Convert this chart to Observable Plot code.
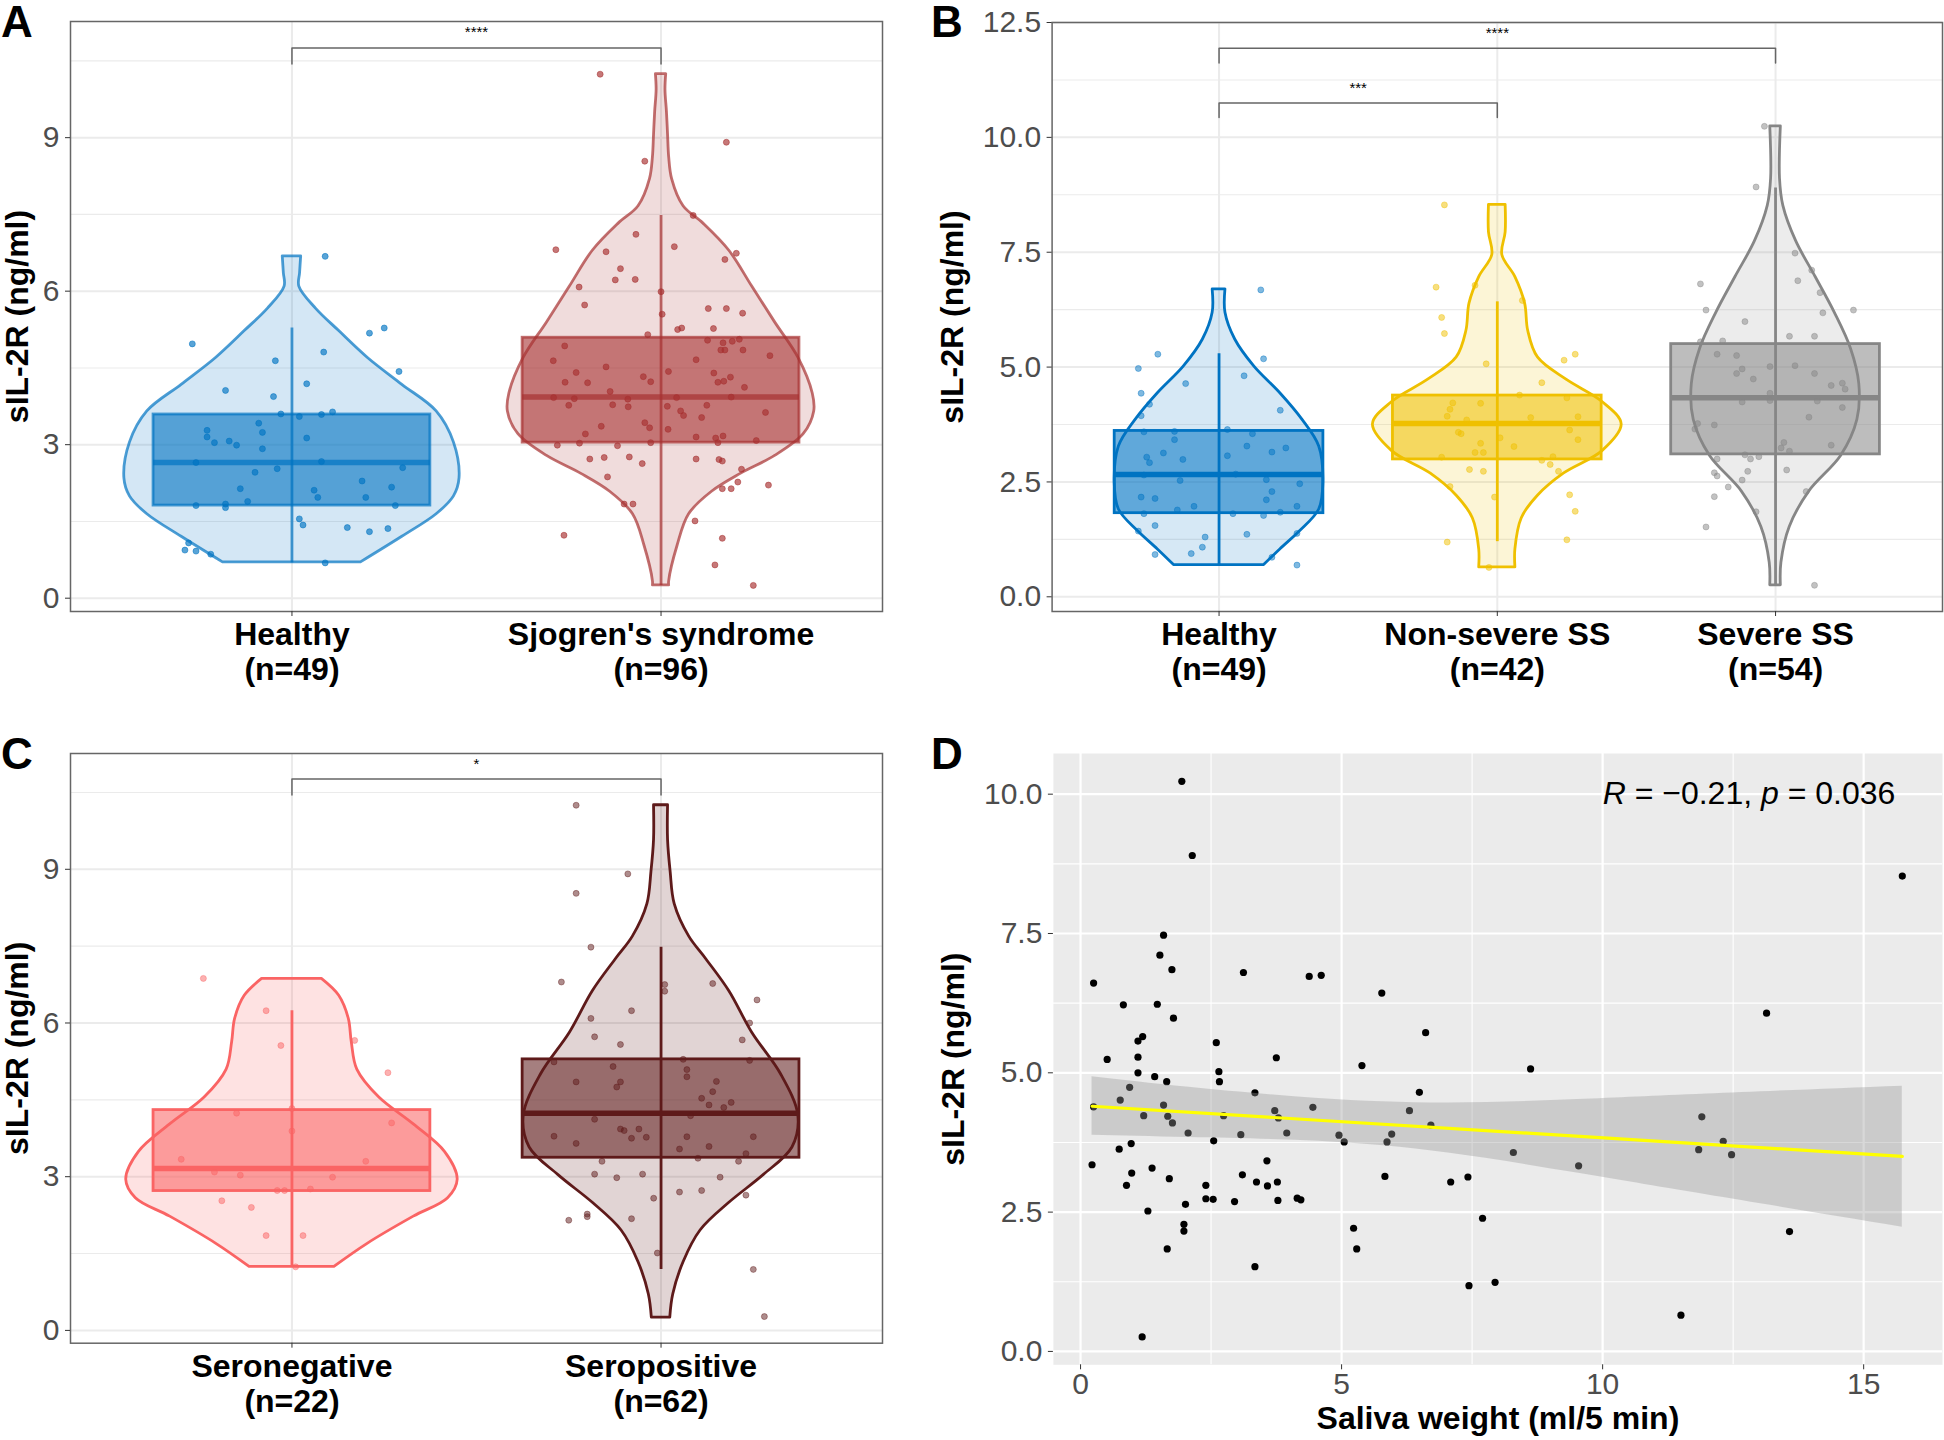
<!DOCTYPE html>
<html><head><meta charset="utf-8">
<script src="https://cdn.jsdelivr.net/npm/d3@7"></script>
<script src="https://cdn.jsdelivr.net/npm/@observablehq/plot@0.6"></script>
<style>
body{margin:0;background:#fff;width:1944px;height:1440px;position:relative;overflow:hidden;font-family:"Liberation Sans",Arial,sans-serif}
.panel{position:absolute}
.letter{position:absolute;font-weight:bold;font-size:44px;line-height:44px;color:#000;font-family:"Liberation Sans",Arial,sans-serif}
</style></head><body>
<div class="letter" style="left:1px;top:0px">A</div>
<div class="letter" style="left:931px;top:0px">B</div>
<div class="letter" style="left:1px;top:732px">C</div>
<div class="letter" style="left:931px;top:732px">D</div>
<div id="pA" class="panel" style="left:0;top:0"></div>
<div id="pB" class="panel" style="left:930px;top:0"></div>
<div id="pC" class="panel" style="left:0;top:720px"></div>
<div id="pD" class="panel" style="left:930px;top:720px"></div>
<script>
// ---------------- DATA ----------------
const yTitle = "sIL-2R (ng/ml)";

// Panel A
const groupsA = ["Healthy\n(n=49)", "Sjogren's syndrome\n(n=96)"];
const colorsA = ["#0073C2", "#A73030"];
const q1A = [1.81, 3.04], medA = [2.65, 3.93], q3A = [3.59, 5.09];
const whiskLoA = [0.69, 0.25], whiskHiA = [5.28, 7.48];
const violinHealthyY = [0.70, 1.20, 1.64, 1.99, 2.34, 3.04, 3.65, 4.17, 4.70, 5.22, 5.66, 6.09, 6.35, 6.68];
const violinHealthyW = [0.187, 0.299, 0.392, 0.439, 0.454, 0.439, 0.392, 0.299, 0.205, 0.128, 0.065, 0.020, 0.022, 0.025];
const violinSSY = [0.25, 0.33, 1.03, 1.64, 2.08, 2.43, 2.78, 3.21, 3.65, 4.00, 4.70, 5.39, 6.09, 6.79, 7.32, 7.66, 8.19, 8.62, 9.06, 9.50, 9.93, 10.24];
const violinSSW = [0.022, 0.022, 0.045, 0.076, 0.138, 0.216, 0.309, 0.387, 0.415, 0.411, 0.372, 0.309, 0.247, 0.185, 0.115, 0.061, 0.030, 0.022, 0.019, 0.016, 0.012, 0.014];
const healthyVals = [4.97,4.06,4.64,6.68,4.81,5.18,5.28,4.43,4.19,3.94,3.60,3.64,3.59,3.55,3.42,3.24,3.28,3.15,3.04,3.07,2.99,2.92,3.13,2.65,2.67,2.55,2.46,2.53,2.14,1.89,2.11,1.97,2.29,1.97,2.17,1.81,1.84,1.77,1.81,1.55,1.43,1.38,1.30,1.36,1.08,0.94,0.92,0.86,0.69];
const healthyJitterA = [-0.27,-0.18,-0.045,0.09,0.086,0.21,0.25,0.29,0.04,-0.05,-0.03,0.11,0.08,0.02,-0.09,-0.08,-0.23,-0.23,-0.21,-0.17,-0.15,-0.08,0.04,-0.26,0.08,0.30,-0.10,-0.04,-0.14,-0.12,0.06,0.07,0.19,0.20,0.27,-0.26,-0.18,-0.18,0.28,0.02,0.03,0.15,0.21,0.26,-0.28,-0.29,-0.26,-0.22,0.09];
const ssVals = [10.24,8.91,8.54,7.48,7.11,6.81,6.87,6.77,6.74,6.62,6.44,6.23,6.22,6.08,5.99,5.73,5.66,5.66,5.57,5.55,5.28,5.25,5.27,5.15,4.93,5.04,5.02,5.06,4.99,4.64,4.66,4.74,4.52,4.85,4.85,4.85,4.41,4.33,4.23,4.43,4.40,4.32,4.22,4.24,4.22,4.21,4.12,4.04,3.92,3.90,3.89,3.92,3.93,3.77,3.78,3.74,3.75,3.77,3.66,3.57,3.53,3.63,3.43,3.33,3.36,3.30,3.21,3.15,3.03,3.13,3.17,3.04,2.99,2.98,3.04,3.08,2.72,2.75,2.76,2.72,2.71,2.68,2.63,2.52,2.37,2.27,2.14,2.14,2.21,1.84,1.84,1.51,1.23,1.17,0.65,0.25];
const ssJitter = [-0.165,0.177,-0.044,0.087,-0.068,-0.285,0.036,-0.149,0.204,0.173,-0.110,-0.070,-0.124,-0.222,0.000,-0.207,0.128,0.177,0.221,0.003,0.056,0.045,0.142,-0.036,-0.261,0.126,0.193,0.212,0.168,-0.292,0.095,0.295,-0.149,0.162,0.173,0.222,-0.230,-0.048,-0.028,0.020,0.143,0.188,0.154,0.170,-0.260,-0.199,0.226,-0.138,-0.291,-0.235,-0.090,0.042,0.190,-0.250,-0.131,-0.089,0.017,0.124,0.053,0.061,0.110,0.283,-0.044,-0.031,-0.162,0.019,-0.205,0.095,-0.221,0.148,0.168,0.154,-0.281,-0.118,-0.028,0.258,-0.193,-0.154,-0.086,0.095,0.157,0.166,-0.051,0.218,-0.145,0.208,0.166,0.190,0.291,-0.100,-0.076,0.092,-0.263,0.166,0.146,0.250];
const bracketFromA = [1], bracketToA = [2], bracketLevelA = [10.75], bracketLabelA = ["****"];

// Panel B
const groupsB = ["Healthy\n(n=49)", "Non-severe SS\n(n=42)", "Severe SS\n(n=54)"];
const colorsB = ["#0073C2", "#EFC000", "#868686"];
const q1B = [1.82, 2.99, 3.10], medB = [2.66, 3.77, 4.33], q3B = [3.61, 4.38, 5.50];
const whiskLoB = [0.69, 1.20, 0.25], whiskHiB = [5.29, 6.42, 8.90];
const violinHealthyBY = [0.69, 1.03, 1.42, 1.90, 2.49, 3.27, 3.85, 4.43, 5.01, 5.60, 6.18, 6.69];
const violinHealthyBW = [0.162, 0.22, 0.29, 0.36, 0.375, 0.36, 0.30, 0.22, 0.127, 0.058, 0.023, 0.023];
const violinNonSevY = [0.64, 1.03, 1.71, 2.20, 2.68, 3.17, 3.75, 4.24, 4.72, 5.21, 5.79, 6.38, 6.96, 7.44, 7.93, 8.53];
const violinNonSevW = [0.065, 0.065, 0.088, 0.146, 0.239, 0.378, 0.447, 0.378, 0.250, 0.146, 0.111, 0.100, 0.065, 0.018, 0.030, 0.030];
const violinSevY = [0.25, 0.74, 1.52, 2.29, 3.07, 3.85, 4.63, 5.40, 6.18, 6.96, 7.74, 8.51, 9.10, 10.24];
const violinSevW = [0.019, 0.021, 0.051, 0.121, 0.236, 0.294, 0.301, 0.271, 0.213, 0.144, 0.074, 0.028, 0.016, 0.019];
const healthyJitterB = [-0.29,0.22,-0.12,0.15,0.09,0.16,-0.22,-0.28,-0.25,-0.28,-0.16,0.03,-0.27,0.12,-0.16,0.24,0.10,0.19,-0.26,0.03,-0.13,-0.25,-0.20,-0.27,0.06,0.17,0.29,-0.14,-0.23,-0.15,0.17,-0.09,0.19,0.28,-0.28,0.05,0.22,0.16,-0.27,-0.23,-0.29,0.28,-0.05,0.10,-0.06,-0.10,-0.23,0.19,0.28];
const nonSevVals = [8.53,6.74,6.78,6.45,6.08,5.73,5.15,5.28,5.07,4.66,4.39,4.33,4.21,4.22,4.08,3.93,3.90,3.92,3.58,3.55,3.63,3.42,3.34,3.14,3.14,3.04,3.05,2.97,2.77,2.73,2.73,2.40,2.22,2.17,1.86,1.19,1.24,0.64,3.27,3.46,2.88,3.85];
const nonSevJitter = [-0.19,-0.22,-0.08,0.09,-0.20,-0.19,0.24,0.28,-0.04,0.16,0.08,0.25,-0.06,-0.16,-0.17,-0.18,0.12,0.29,-0.14,-0.13,0.26,0.29,-0.06,-0.08,-0.05,-0.20,0.20,0.16,-0.10,-0.05,0.22,-0.17,0.26,-0.01,0.28,-0.18,0.25,-0.03,0.06,0.01,0.19,-0.11];
const sevVals = [10.24,8.92,7.48,7.11,6.88,6.81,6.62,6.24,6.24,5.99,5.67,5.67,5.55,5.57,5.28,5.25,5.01,5.03,4.96,4.86,4.86,4.74,4.65,4.52,4.43,4.27,4.24,4.26,4.12,3.91,3.77,3.74,3.65,3.30,3.36,3.24,3.17,3.00,3.09,3.00,3.05,2.76,2.73,2.70,2.63,2.54,2.29,2.18,1.85,1.52,0.25,2.39,6.18,4.60];
const sevJitter = [-0.04,-0.07,0.07,0.13,0.08,-0.27,0.16,-0.25,0.28,-0.11,0.05,0.14,-0.27,-0.19,-0.21,-0.14,-0.02,0.07,-0.12,-0.14,0.14,-0.08,0.24,0.25,-0.02,-0.02,-0.12,0.15,0.24,0.12,-0.28,-0.22,-0.29,0.20,0.03,0.02,0.05,-0.21,-0.11,-0.09,-0.06,0.04,-0.10,-0.22,-0.21,-0.12,0.11,-0.22,-0.07,-0.25,0.14,-0.17,0.17,0.20];
const bracketFromB = [1, 1], bracketToB = [3, 2], bracketLevelB = [11.94, 10.75], bracketLabelB = ["****", "***"];

// Panel C
const groupsC = ["Seronegative\n(n=22)", "Seropositive\n(n=62)"];
const colorsC = ["#FA6464", "#5E1A1A"];
const q1C = [2.72, 3.37], medC = [3.16, 4.24], q3C = [4.30, 5.29];
const whiskLoC = [1.24, 1.19], whiskHiC = [6.24, 7.48];
const violinSeroNegY = [1.24, 1.69, 2.22, 2.58, 2.94, 3.48, 4.02, 4.55, 5.09, 5.63, 6.08, 6.53, 6.86];
const violinSeroNegW = [0.115, 0.205, 0.330, 0.423, 0.449, 0.415, 0.330, 0.236, 0.177, 0.162, 0.154, 0.128, 0.081];
const violinSeroPosY = [0.25, 0.70, 1.33, 1.95, 2.49, 3.03, 3.57, 4.19, 5.00, 5.81, 6.62, 7.24, 7.69, 8.32, 8.95, 9.57, 10.25];
const violinSeroPosW = [0.025, 0.033, 0.061, 0.107, 0.185, 0.278, 0.356, 0.372, 0.325, 0.247, 0.185, 0.123, 0.076, 0.037, 0.026, 0.019, 0.019];
const seroNegVals = [6.87,6.24,5.56,5.66,5.03,4.24,4.33,4.05,3.89,3.34,3.09,2.99,2.73,2.73,2.76,2.53,2.40,1.85,1.85,1.24,3.30,3.03];
const seroNegJitter = [-0.24,-0.07,-0.03,0.17,0.26,-0.15,0.00,0.27,0.00,-0.30,-0.21,0.11,-0.04,-0.02,0.05,-0.19,-0.11,-0.07,0.03,0.01,0.20,-0.14];
const seroPosVals = [10.25,8.91,8.53,7.48,6.80,6.75,6.62,6.77,6.45,6.24,6.09,6.00,5.73,5.67,5.58,5.27,5.24,5.29,5.15,5.09,4.95,4.85,4.85,4.75,4.86,4.66,4.53,4.40,4.45,4.35,4.12,3.93,3.90,3.93,3.75,3.77,3.79,3.78,3.78,3.65,3.59,3.54,3.45,3.36,3.30,3.05,2.98,3.05,2.99,2.70,2.73,2.64,2.15,2.27,2.22,2.18,1.51,1.19,0.27,4.19,3.30,2.58];
const seroPosJitter = [-0.23,-0.09,-0.23,-0.19,-0.27,0.01,0.01,0.14,0.26,-0.08,-0.19,0.24,-0.18,0.22,-0.11,0.24,-0.29,0.06,-0.13,0.07,0.07,-0.23,-0.11,-0.12,0.15,0.14,0.11,0.13,0.19,0.17,-0.18,-0.11,-0.10,-0.06,-0.08,-0.04,-0.29,0.07,0.25,-0.23,0.13,0.05,0.23,0.10,0.21,-0.18,-0.12,-0.05,0.16,0.05,0.11,0.23,-0.25,-0.20,-0.20,-0.08,-0.01,0.25,0.28,0.08,-0.16,-0.02];
const bracketFromC = [1], bracketToC = [2], bracketLevelC = [10.76], bracketLabelC = ["*"];

// Panel D
const salivaWeight = [1.94,2.14,15.74,1.59,1.52,1.75,3.12,4.38,4.61,0.25,0.82,1.47,5.77,1.78,13.14,1.19,1.10,2.60,6.61,0.51,3.75,1.10,1.10,2.65,1.42,5.39,8.62,0.94,1.65,2.66,3.34,0.76,1.59,6.49,0.25,4.45,3.72,6.30,1.21,1.67,2.74,3.79,11.90,1.76,6.71,2.06,3.95,3.07,4.95,5.96,2.55,5.05,5.87,12.31,0.97,0.74,11.84,12.47,8.29,3.57,0.22,9.54,1.37,3.10,0.98,1.70,5.83,7.42,3.37,7.09,3.77,0.88,2.40,3.58,4.15,4.22,2.54,2.40,2.95,3.78,2.01,1.29,7.70,1.98,1.98,5.23,13.58,1.66,5.29,3.34,7.44,7.94,11.50,1.18];
const sil2r = [10.23,8.90,8.53,7.47,7.11,6.85,6.80,6.73,6.75,6.61,6.22,6.23,6.43,5.98,6.07,5.65,5.57,5.54,5.72,5.24,5.27,5.28,5.00,5.02,4.93,5.13,5.07,4.74,4.84,4.84,4.64,4.51,4.42,4.65,4.39,4.38,4.32,4.32,4.23,4.22,4.23,4.19,4.21,4.10,4.06,3.92,3.92,3.89,3.88,3.90,3.78,3.76,3.76,3.77,3.73,3.63,3.62,3.53,3.57,3.42,3.35,3.33,3.29,3.17,3.20,3.10,3.14,3.13,3.04,3.04,3.04,2.98,2.98,2.97,2.75,2.72,2.73,2.74,2.69,2.71,2.64,2.52,2.39,2.28,2.16,2.21,2.15,1.84,1.84,1.52,1.18,1.24,0.65,0.26];
const fitX = [0.22, 15.74], fitY = [4.40, 3.50];
const bandX = [0.22, 2.08, 4.56, 7.04, 9.51, 11.99, 15.74];
const bandLo = [3.88, 3.84, 3.77, 3.56, 3.20, 2.81, 2.23];
const bandHi = [4.93, 4.74, 4.54, 4.46, 4.52, 4.62, 4.76];
const statLabel = "R = \u22120.21, p = 0.036";
const xTitleD = "Saliva weight (ml/5 min)";

// ---------------- DRAWING ----------------
const FONT = "'Liberation Sans', Arial, Helvetica, sans-serif";
const rows = (ys, ws) => ys.map((y, k) => ({y, w: ws[k]}));
const pts = (vals, jit) => vals.slice(0, Math.min(vals.length, jit.length)).map((y, k) => ({y, dx: jit[k]}));

function violinPanel(cfg) {
  const n = cfg.groups.length;
  const centers = d3.range(1, n + 1);
  const marks = [
    Plot.gridY(cfg.yMinor, {stroke: "#ebebeb", strokeOpacity: 1, strokeWidth: 1.1}),
    Plot.gridY(cfg.yTicks, {stroke: "#ebebeb", strokeOpacity: 1, strokeWidth: 2}),
    Plot.gridX(centers, {stroke: "#ebebeb", strokeOpacity: 1, strokeWidth: 2})
  ];
  cfg.violins.forEach((v, i) => {
    const cx = i + 1, col = cfg.colors[i];
    marks.push(Plot.areaX(v, {y: "y", x1: d => cx - d.w, x2: d => cx + d.w,
      fill: col, fillOpacity: cfg.violinOpacity, stroke: col, strokeOpacity: cfg.strokeOpacity,
      strokeWidth: 2.8, curve: "catmull-rom"}));
  });
  cfg.groups.forEach((g, i) => {
    const cx = i + 1, col = cfg.colors[i];
    marks.push(Plot.ruleX([cx], {y1: cfg.lo[i], y2: cfg.hi[i], stroke: col, strokeOpacity: cfg.strokeOpacity, strokeWidth: 2.8}));
    marks.push(Plot.rect([cfg.q1[i]], {x1: cx - 0.375, x2: cx + 0.375, y1: cfg.q1[i], y2: cfg.q3[i],
      fill: col, fillOpacity: cfg.boxOpacity, stroke: col, strokeOpacity: cfg.strokeOpacity, strokeWidth: 2.8}));
    marks.push(Plot.ruleY([cfg.med[i]], {x1: cx - 0.375, x2: cx + 0.375, stroke: col, strokeOpacity: cfg.strokeOpacity, strokeWidth: 5.5}));
  });
  cfg.points.forEach((p, i) => {
    const cx = i + 1, col = cfg.colors[i];
    marks.push(Plot.dot(p, {x: d => cx + d.dx, y: "y", r: 3, fill: col, fillOpacity: cfg.pointOpacity,
      stroke: col, strokeOpacity: cfg.pointOpacity, strokeWidth: 0.8}));
  });
  cfg.brFrom.forEach((f, k) => {
    const t = cfg.brTo[k], lv = cfg.brLevel[k];
    marks.push(Plot.line([[f, lv - cfg.drop], [f, lv], [t, lv], [t, lv - cfg.drop]],
      {x: d => d[0], y: d => d[1], stroke: "#666", strokeWidth: 1.5}));
    marks.push(Plot.text([cfg.brLabel[k]], {x: (f + t) / 2, y: lv + cfg.lift, fontSize: 15, fill: "black"}));
  });
  marks.push(Plot.frame({stroke: "#666", strokeWidth: 1.5}));
  marks.push(Plot.axisY({ticks: cfg.yTicks, tickFormat: cfg.yFormat, tickSize: 5, tickPadding: 6,
    fontSize: 30, fill: "#4d4d4d", stroke: "#333", label: null}));
  marks.push(Plot.axisX({ticks: centers, tickFormat: d => cfg.groups[d - 1], tickSize: 5, tickPadding: 4,
    fontSize: 32, fontWeight: "bold", fill: "black", stroke: "#333", lineHeight: 1.094, label: null}));
  marks.push(Plot.text([yTitle], {frameAnchor: "left", dx: cfg.titleDx, rotate: -90, textAnchor: "middle", lineAnchor: "middle",
    fontSize: 32, fontWeight: "bold", fill: "black"}));
  return Plot.plot({
    width: cfg.width, height: cfg.height,
    marginLeft: cfg.m[0], marginRight: cfg.m[1], marginTop: cfg.m[2], marginBottom: cfg.m[3],
    x: {domain: [0.4, n + 0.6]},
    y: {domain: cfg.yDomain},
    style: {fontFamily: FONT, background: "transparent", overflow: "visible", color: "black"},
    marks
  });
}

document.getElementById("pA").append(violinPanel({
  groups: groupsA, colors: colorsA, q1: q1A, med: medA, q3: q3A, lo: whiskLoA, hi: whiskHiA,
  violins: [rows(violinHealthyY, violinHealthyW), rows(violinSSY, violinSSW)],
  points: [pts(healthyVals, healthyJitterA), pts(ssVals, ssJitter)],
  yDomain: [-0.26, 11.27], yTicks: [0, 3, 6, 9], yMinor: [1.5, 4.5, 7.5, 10.5], yFormat: d => d,
  brFrom: bracketFromA, brTo: bracketToA, brLevel: bracketLevelA, brLabel: bracketLabelA, drop: 0.31, lift: 0.32,
  strokeOpacity: 0.7, violinOpacity: 0.17, boxOpacity: 0.6, pointOpacity: 0.65,
  width: 900, height: 700, m: [70, 18, 21, 89], titleDx: -53
}));

document.getElementById("pB").append(violinPanel({
  groups: groupsB, colors: colorsB, q1: q1B, med: medB, q3: q3B, lo: whiskLoB, hi: whiskHiB,
  violins: [rows(violinHealthyBY, violinHealthyBW), rows(violinNonSevY, violinNonSevW), rows(violinSevY, violinSevW)],
  points: [pts(healthyVals, healthyJitterB), pts(nonSevVals, nonSevJitter), pts(sevVals, sevJitter)],
  yDomain: [-0.32, 12.5], yTicks: [0, 2.5, 5, 7.5, 10, 12.5], yMinor: [1.25, 3.75, 6.25, 8.75, 11.25], yFormat: d3.format(".1f"),
  brFrom: bracketFromB, brTo: bracketToB, brLevel: bracketLevelB, brLabel: bracketLabelB, drop: 0.32, lift: 0.33,
  strokeOpacity: 1, violinOpacity: 0.16, boxOpacity: 0.55, pointOpacity: 0.5,
  width: 1014, height: 700, m: [121.6, 2, 22, 89], titleDx: -99
}));

document.getElementById("pC").append(violinPanel({
  groups: groupsC, colors: colorsC, q1: q1C, med: medC, q3: q3C, lo: whiskLoC, hi: whiskHiC,
  violins: [rows(violinSeroNegY, violinSeroNegW), rows(violinSeroPosY, violinSeroPosW)],
  points: [pts(seroNegVals, seroNegJitter), pts(seroPosVals, seroPosJitter)],
  yDomain: [-0.25, 11.26], yTicks: [0, 3, 6, 9], yMinor: [1.5, 4.5, 7.5, 10.5], yFormat: d => d,
  brFrom: bracketFromC, brTo: bracketToC, brLevel: bracketLevelC, brLabel: bracketLabelC, drop: 0.31, lift: 0.3,
  strokeOpacity: 1, violinOpacity: 0.19, boxOpacity: 0.56, pointOpacity: 0.5,
  width: 900, height: 720, m: [70, 18, 33, 97.3], titleDx: -53
}));

// Panel D scatter
const scatter = salivaWeight.map((x, k) => ({x, y: sil2r[k]})).filter(d => d.y != null);
const band = bandX.map((x, k) => ({x, lo: bandLo[k], hi: bandHi[k]}));
const fit = fitX.map((x, k) => ({x, y: fitY[k]}));
const svgD = Plot.plot({
  width: 1014, height: 720, marginLeft: 122.9, marginRight: 2, marginTop: 33, marginBottom: 75.7,
  x: {domain: [-0.52, 16.51]},
  y: {domain: [-0.24, 10.73]},
  style: {fontFamily: FONT, background: "transparent", overflow: "visible", color: "black"},
  marks: [
    Plot.frame({fill: "#ebebeb", stroke: null}),
    Plot.gridX([2.5, 7.5, 12.5], {stroke: "white", strokeOpacity: 1, strokeWidth: 1.1}),
    Plot.gridY([1.25, 3.75, 6.25, 8.75], {stroke: "white", strokeOpacity: 1, strokeWidth: 1.1}),
    Plot.gridX([0, 5, 10, 15], {stroke: "white", strokeOpacity: 1, strokeWidth: 2.2}),
    Plot.gridY([0, 2.5, 5, 7.5, 10], {stroke: "white", strokeOpacity: 1, strokeWidth: 2.2}),
    Plot.dot(scatter, {x: "x", y: "y", r: 3.6, fill: "black"}),
    Plot.areaY(band, {x: "x", y1: "lo", y2: "hi", fill: "#999999", fillOpacity: 0.38, curve: "natural"}),
    Plot.line(fit, {x: "x", y: "y", stroke: "#FFFF00", strokeWidth: 3.2}),
    Plot.text([statLabel], {x: 10.0, y: 10.0, textAnchor: "start", fontSize: 32, fill: "black"}),
    Plot.axisY({ticks: [0, 2.5, 5, 7.5, 10], tickFormat: d3.format(".1f"), tickSize: 5, tickPadding: 6,
      fontSize: 30, fill: "#4d4d4d", stroke: "#333", label: null}),
    Plot.axisX({ticks: [0, 5, 10, 15], tickFormat: d => d, tickSize: 5, tickPadding: 3,
      fontSize: 30, fill: "#4d4d4d", stroke: "#333", label: null}),
    Plot.text([yTitle], {frameAnchor: "left", dx: -100, rotate: -90, textAnchor: "middle", lineAnchor: "middle",
      fontSize: 32, fontWeight: "bold", fill: "black"}),
    Plot.text([xTitleD], {frameAnchor: "bottom", dy: 53.5, textAnchor: "middle", lineAnchor: "middle",
      fontSize: 32, fontWeight: "bold", fill: "black"})
  ]
});
svgD.querySelectorAll("text").forEach(t => {
  if (t.textContent === statLabel) {
    const parts = [["R", true], [" = \u22120.21, ", false], ["p", true], [" = 0.036", false]];
    t.textContent = "";
    parts.forEach(([s, it]) => {
      const ts = document.createElementNS("http://www.w3.org/2000/svg", "tspan");
      ts.textContent = s;
      if (it) ts.setAttribute("font-style", "italic");
      t.appendChild(ts);
    });
  }
});
document.getElementById("pD").append(svgD);
</script>
</body></html>
